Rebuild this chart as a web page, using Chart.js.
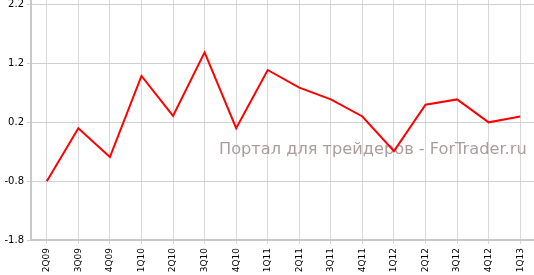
<!DOCTYPE html>
<html>
<head>
<meta charset="utf-8">
<script src="https://cdn.jsdelivr.net/npm/chart.js@4.4.0/dist/chart.umd.min.js"></script>
<style>
  html, body { margin: 0; padding: 0; background: #ffffff; overflow: hidden; }
  #wrap { width: 536px; height: 275px; position: relative; }
</style>
</head>
<body>
<div id="wrap"><canvas id="chart"></canvas></div>
<script>
// quarters along the bottom
const quarters = ['2Q09', '3Q09', '4Q09', '1Q10', '2Q10', '3Q10', '4Q10', '1Q11',
  '2Q11', '3Q11', '4Q11', '1Q12', '2Q12', '3Q12', '4Q12', '1Q13'];
// values
const values = [-0.8, 0.10, -0.39, 0.99, 0.31, 1.39, 0.10, 1.09,
  0.79, 0.59, 0.30, -0.29, 0.50, 0.59, 0.20, 0.30];
const yTicks = [-1.8, -0.8, 0.2, 1.2, 2.2];
const watermark = 'Портал для трейдеров - ForTrader.ru';

// draw the grey site text behind the line
const watermarkPlugin = {
  id: 'watermark',
  beforeDatasetsDraw(chart) {
    const ctx = chart.ctx;
    ctx.save();
    ctx.font = '16.2px "DejaVu Sans"';
    ctx.fillStyle = '#ab9d9d';
    ctx.textBaseline = 'alphabetic';
    ctx.fillText(watermark, 219, 154);
    ctx.restore();
  }
};

new Chart(document.getElementById('chart'), {
  type: 'line',
  data: {
    labels: quarters,
    datasets: [{
      data: values,
      borderColor: '#ff0000',
      borderWidth: 2,
      pointRadius: 0,
      tension: 0,
      fill: false
    }]
  },
  options: {
    responsive: true,
    maintainAspectRatio: false,
    animation: false,
    layout: { padding: 0 },
    plugins: {
      legend: { display: false },
      tooltip: { enabled: false }
    },
    scales: {
      x: {
        offset: true,
        grid: { color: '#d8d8d8', lineWidth: 1, tickLength: 4, offset: false },
        border: { color: '#c8c8c8', width: 2 },
        ticks: {
          color: '#000000',
          font: { family: 'DejaVu Sans', size: 9 },
          minRotation: 90,
          maxRotation: 90,
          autoSkip: false,
          padding: 4
        },
        afterFit(scale) {
          scale.height = 35;
          scale.paddingLeft = 0;
          scale.paddingRight = 0;
        }
      },
      y: {
        min: -1.8,
        max: 2.28,
        afterBuildTicks(scale) {
          scale.ticks = yTicks.map(v => ({ value: v }));
        },
        grid: { color: '#d0d0d0', lineWidth: 1, tickLength: 4 },
        border: { color: '#c8c8c8', width: 2 },
        ticks: {
          color: '#000000',
          font: { family: 'DejaVu Sans', size: 10 },
          padding: 3,
          callback: v => v.toFixed(1)
        },
        afterFit(scale) {
          scale.width = 31;
          scale.paddingTop = 0;
          scale.paddingBottom = 0;
        }
      }
    }
  },
  plugins: [watermarkPlugin]
});
</script>
</body>
</html>
